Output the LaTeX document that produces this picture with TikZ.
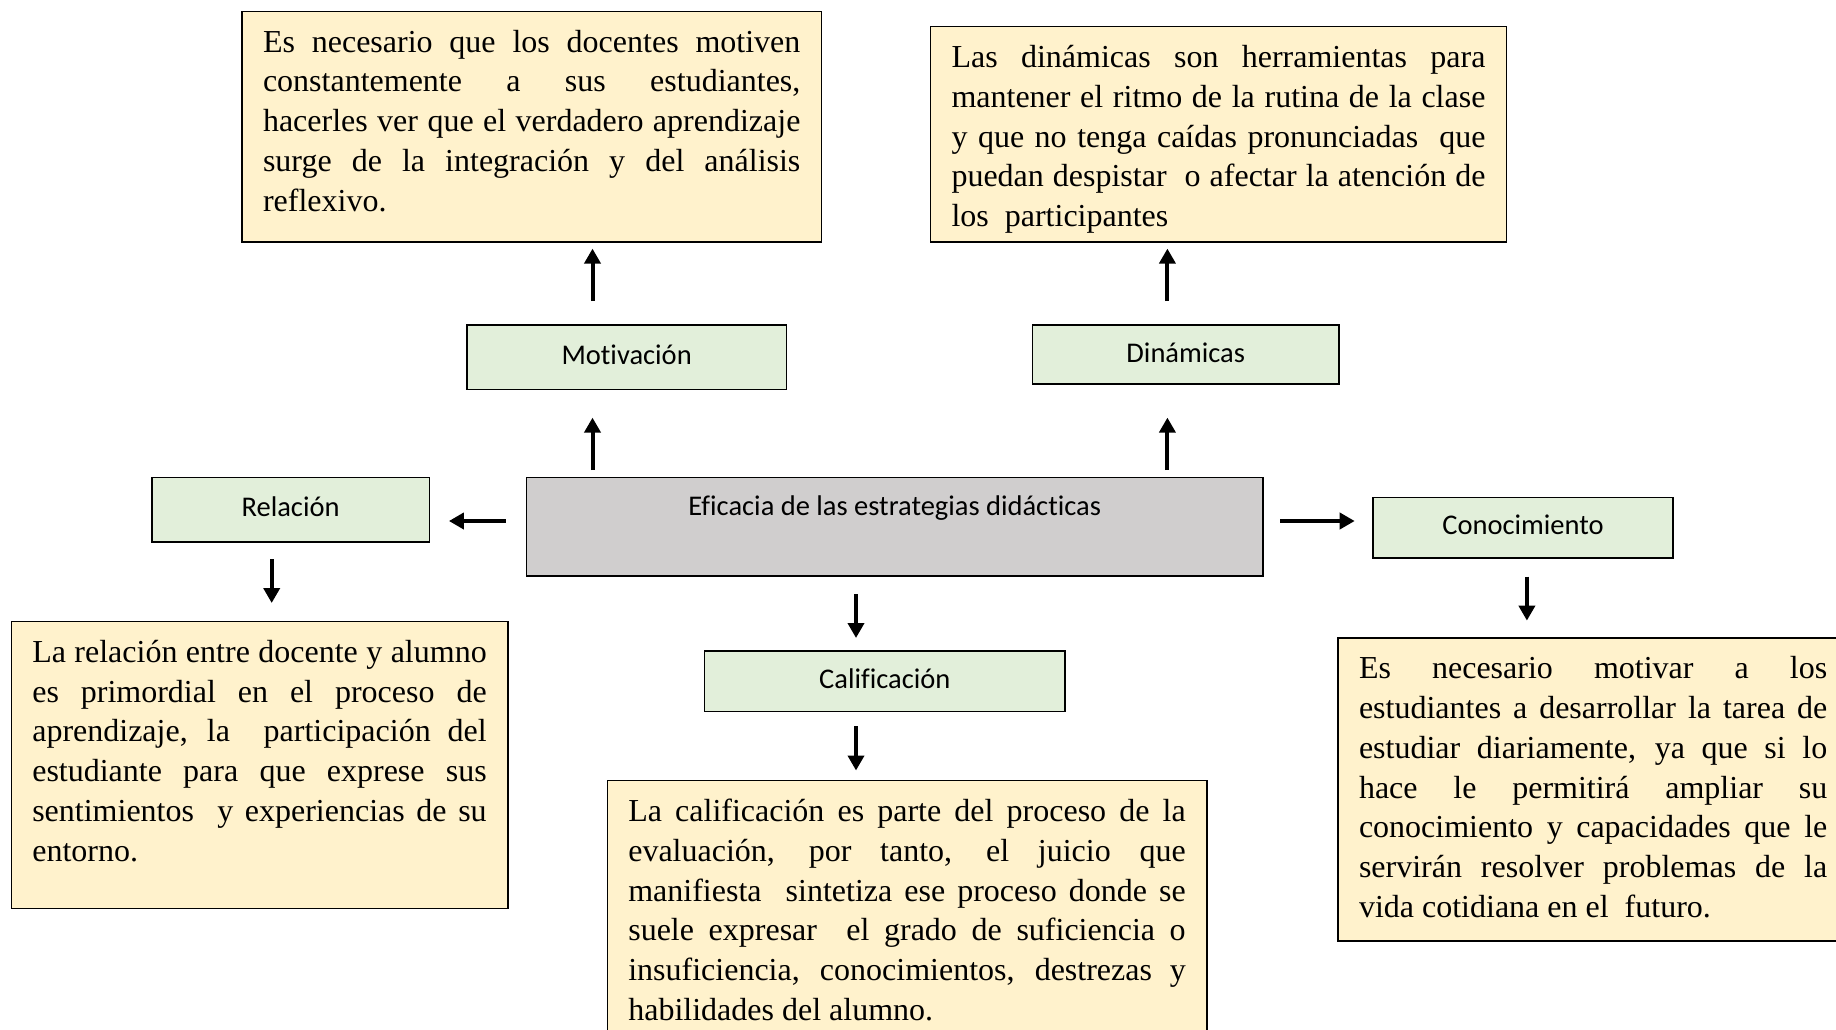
\documentclass[tikz,border=0pt]{standalone}
\usepackage{fontspec}
\setmainfont[Ligatures={TeX,NoCommon}]{Liberation Serif}
\newfontfamily\labfont[Ligatures={TeX,NoCommon}]{Carlito}
\usetikzlibrary{arrows.meta}
\definecolor{yfill}{HTML}{FFF2CC}
\definecolor{gfill}{HTML}{E2EFDA}
\definecolor{cfill}{HTML}{D0CECE}
\newcommand\jl[1]{\makebox[\linewidth][s]{#1}}
\newcommand\tpar[3]{\parbox[c][#2][t]{#1}{\strut #3}}
\begin{document}
\begin{tikzpicture}[x=1pt,y=-1pt,
  ybox/.style={draw=black, line width=1.6pt, fill=yfill, inner xsep=21pt, inner ysep=13pt,
    anchor=north west, font=\fontsize{32}{39.8}\selectfont},
  gbox/.style={draw=black, line width=1.6pt, fill=gfill, inner sep=0pt, anchor=north west,
    font=\labfont\fontsize{28.5}{34}\selectfont, text height=20pt, text depth=6pt},
  cbox/.style={draw=black, line width=1.6pt, fill=cfill, inner sep=0pt, anchor=north west,
    font=\labfont\fontsize{28.5}{34}\selectfont},
  arr/.style={line width=4pt, -{Triangle[length=15pt,width=16pt]}}]
\useasboundingbox (0,0) rectangle (1836,1029);
\clip (0,0) rectangle (1836,1029);
\fill[white] (0,0) rectangle (1836,1029);

% text boxes
\node[ybox] (motT) at (241.2,10.5) {\tpar{537.4pt}{204.7pt}{%
\jl{Es necesario que los docentes motiven}\\
\jl{constantemente a sus estudiantes,}\\
\jl{hacerles ver que el verdadero aprendizaje}\\
\jl{surge de la integración y del análisis}\\
reflexivo.}};

\node[ybox] (dinT) at (929.7,25.8) {\tpar{533.9pt}{189.4pt}{%
\jl{Las dinámicas son herramientas para}\\
\jl{mantener el ritmo de la rutina de la clase}\\
\jl{y que no tenga caídas pronunciadas \ que}\\
\jl{puedan despistar \ o afectar la atención de}\\
los \ participantes}};

\node[ybox] (relT) at (10.5,620.6) {\tpar{454.4pt}{260.9pt}{%
\jl{La relación entre docente y alumno}\\
\jl{es primordial en el proceso de}\\
\jl{aprendizaje, la \ participación del}\\
\jl{estudiante para que exprese sus}\\
\jl{sentimientos \ y experiencias de su}\\
entorno.}};

\node[ybox] (calT) at (606.5,779.8) {\tpar{557.4pt}{244pt}{%
\jl{La calificación es parte del proceso de la}\\
\jl{evaluación, por tanto, el juicio que}\\
\jl{manifiesta \ sintetiza ese proceso donde se}\\
\jl{suele expresar \ el grado de suficiencia o}\\
\jl{insuficiencia, conocimientos, destrezas y}\\
habilidades del alumno.}};

\node[ybox] (conT) at (1337.2,637) {\tpar{468.3pt}{277.2pt}{%
\jl{Es necesario motivar a los}\\
\jl{estudiantes a desarrollar la tarea de}\\
\jl{estudiar diariamente, ya que si lo}\\
\jl{hace le permitirá ampliar su}\\
\jl{conocimiento y capacidades que le}\\
\jl{servirán resolver problemas de la}\\
vida cotidiana en el \ futuro.}};

% green boxes
\node[gbox, minimum width=319.7pt, minimum height=64.4pt] (mot) at (466,324.3) {Motivación};
\node[gbox, minimum width=306.7pt, minimum height=58.6pt, text height=21pt, text depth=5pt] (din) at (1031.6,324.3) {Dinámicas};
\node[gbox, minimum width=277.5pt, minimum height=64.4pt] (rel) at (151,476.6) {Relación};
\node[gbox, minimum width=299.8pt, minimum height=60.9pt] (con) at (1372.3,496.5) {Conocimiento};
\node[gbox, minimum width=360.6pt, minimum height=60.8pt] (cal) at (703.7,649.9) {Calificación};

% central box
\node[cbox, minimum width=736.5pt, minimum height=98.3pt] (cen) at (525.7,476.6)
  {\parbox[c][69.1pt][t]{700pt}{\centering\strut Eficacia de las estrategias didácticas}};

% arrow guide coordinates
\coordinate (mx) at (592.5,0);
\coordinate (dx) at (1167.4,0);
\coordinate (hy) at (0,521);
\coordinate (cx) at (856,0);
\coordinate (rx) at (271.7,0);
\coordinate (kx) at (1526.9,0);

% connectors
\draw[arr, shorten <=6.6pt, shorten >=27.3pt] (cen.north -| mx) -- (mot.south -| mx);
\draw[arr, shorten <=23.3pt, shorten >=5.8pt] (mot.north -| mx) -- (motT.south -| mx);
\draw[arr, shorten <=6.6pt, shorten >=33.1pt] (cen.north -| dx) -- (din.south -| dx);
\draw[arr, shorten <=23.3pt, shorten >=5.8pt] (din.north -| dx) -- (dinT.south -| dx);
\draw[arr, shorten <=19.9pt, shorten >=18.8pt] (cen.west |- hy) -- (rel.east |- hy);
\draw[arr, shorten <=16.4pt, shorten >=17.6pt] (cen.east |- hy) -- (con.west |- hy);
\draw[arr, shorten <=17.6pt, shorten >=11.9pt] (cen.south -| cx) -- (cal.north -| cx);
\draw[arr, shorten <=14.1pt, shorten >=9.3pt] (cal.south -| cx) -- (calT.north -| cx);
\draw[arr, shorten <=16.4pt, shorten >=17.6pt] (rel.south -| rx) -- (relT.north -| rx);
\draw[arr, shorten <=17.5pt, shorten >=16.4pt] (con.south -| kx) -- (conT.north -| kx);
\end{tikzpicture}
\end{document}
